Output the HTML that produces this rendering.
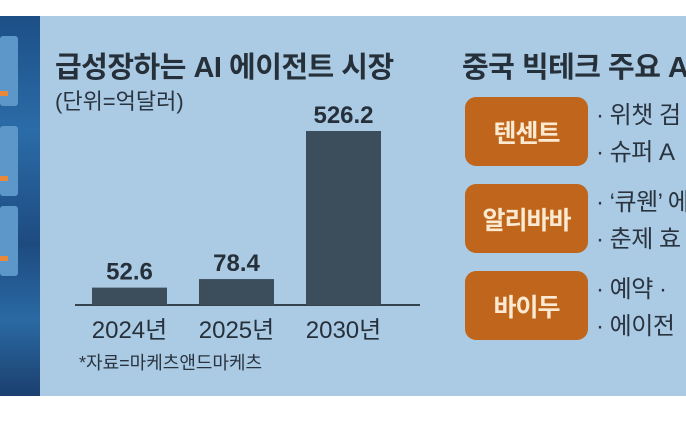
<!DOCTYPE html>
<html><head><meta charset="utf-8"><style>
body{margin:0;width:686px;height:440px;background:#fff;overflow:hidden;position:relative;font-family:"Liberation Sans","Noto Sans CJK KR",sans-serif}
.abs{position:absolute}
#panel{left:0;top:16px;width:686px;height:380px;background:#abcbe4}
.box{position:absolute;left:465px;width:123px;height:69px;background:#c0661c;border-radius:11px;color:#fbead2;font-size:25px;font-weight:bold;display:flex;align-items:center;justify-content:center;letter-spacing:-1px}
.desc{position:absolute;left:596px;font-size:24px;color:#2a3440;line-height:37px;white-space:nowrap;letter-spacing:-0.5px}
</style></head><body>
<div id="panel" class="abs"></div>
<div class="abs" style="left:0;top:16px;width:40px;height:380px;background:linear-gradient(180deg,#1c4f86,#2b6ca8 30%,#1d4b80 60%,#2a6aa3 80%,#1b3f6e)">
  <div class="abs" style="left:0;top:20px;width:18px;height:70px;background:#5d97c9;border-radius:3px"></div>
  <div class="abs" style="left:0;top:110px;width:18px;height:70px;background:#5d97c9;border-radius:3px"></div>
  <div class="abs" style="left:0;top:190px;width:18px;height:70px;background:#5d97c9;border-radius:3px"></div>
  <div class="abs" style="left:0;top:75px;width:8px;height:5px;background:#e8883a"></div>
  <div class="abs" style="left:0;top:160px;width:8px;height:5px;background:#e8883a"></div>
  <div class="abs" style="left:0;top:240px;width:8px;height:5px;background:#e8883a"></div>
</div>
<div class="abs" style="left:55px;top:44px;font-size:29px;font-weight:bold;color:#26303a;letter-spacing:-0.5px;white-space:nowrap">급성장하는 AI 에이전트 시장</div>
<div class="abs" style="left:55px;top:84px;font-size:22px;color:#2a3440;white-space:nowrap">(단위=억달러)</div>
<svg id="chart" class="abs" style="left:0;top:0" width="420" height="400"></svg>
<div class="abs" style="left:79px;top:349px;font-size:18px;color:#2a3440;white-space:nowrap">*자료=마케츠앤드마케츠</div>
<div class="abs" style="left:462px;top:44px;font-size:29px;font-weight:bold;color:#26303a;letter-spacing:-0.5px;white-space:nowrap">중국 빅테크 주요 AI</div>
<div class="box" style="top:97px">텐센트</div>
<div class="desc" style="top:97px">· 위챗 검<br>· 슈퍼 A</div>
<div class="box" style="top:184px">알리바바</div>
<div class="desc" style="top:184px">· ‘큐웬’ 에<br>· 춘제 효</div>
<div class="box" style="top:271px">바이두</div>
<div class="desc" style="top:271px">· 예약 ·<br>· 에이전</div>
<script>
const categories=["2024년","2025년","2030년"];
const values=[52.6,78.4,526.2];
const valueLabels=["52.6","78.4","526.2"];
const svg=document.getElementById('chart');
const NS="http://www.w3.org/2000/svg";
const baseY=305, pxPer=174/526.2;
function y(v){return baseY-v*pxPer;}
function x(i){return 92+i*107;}
const bw=75;
const ax=document.createElementNS(NS,'line');
ax.setAttribute('x1',75);ax.setAttribute('x2',420);ax.setAttribute('y1',baseY);ax.setAttribute('y2',baseY);
ax.setAttribute('stroke','#34444f');ax.setAttribute('stroke-width','2');


svg.appendChild(ax);
values.forEach((v,i)=>{
  const r=document.createElementNS(NS,'rect');
  r.setAttribute('x',x(i));r.setAttribute('y',y(v));r.setAttribute('width',bw);r.setAttribute('height',baseY-y(v));
  r.setAttribute('fill','#3c4d5b');
  
  
  svg.appendChild(r);
  const t=document.createElementNS(NS,'text');
  t.setAttribute('x',x(i)+bw/2);t.setAttribute('y',y(v)-8);t.setAttribute('text-anchor','middle');
  t.setAttribute('font-size','24');t.setAttribute('font-weight','bold');t.setAttribute('fill','#26303a');
  t.setAttribute('font-family','"Liberation Sans Narrow","Liberation Sans",sans-serif');
  t.textContent=valueLabels[i];
  
  
  svg.appendChild(t);
  const c=document.createElementNS(NS,'text');
  c.setAttribute('x',x(i)+bw/2);c.setAttribute('y',338);c.setAttribute('text-anchor','middle');
  c.setAttribute('font-size','24');c.setAttribute('fill','#26303a');
  c.setAttribute('font-family','"Liberation Sans","Noto Sans CJK KR",sans-serif');
  c.textContent=categories[i];
  
  
  svg.appendChild(c);
});
</script>
</body></html>
